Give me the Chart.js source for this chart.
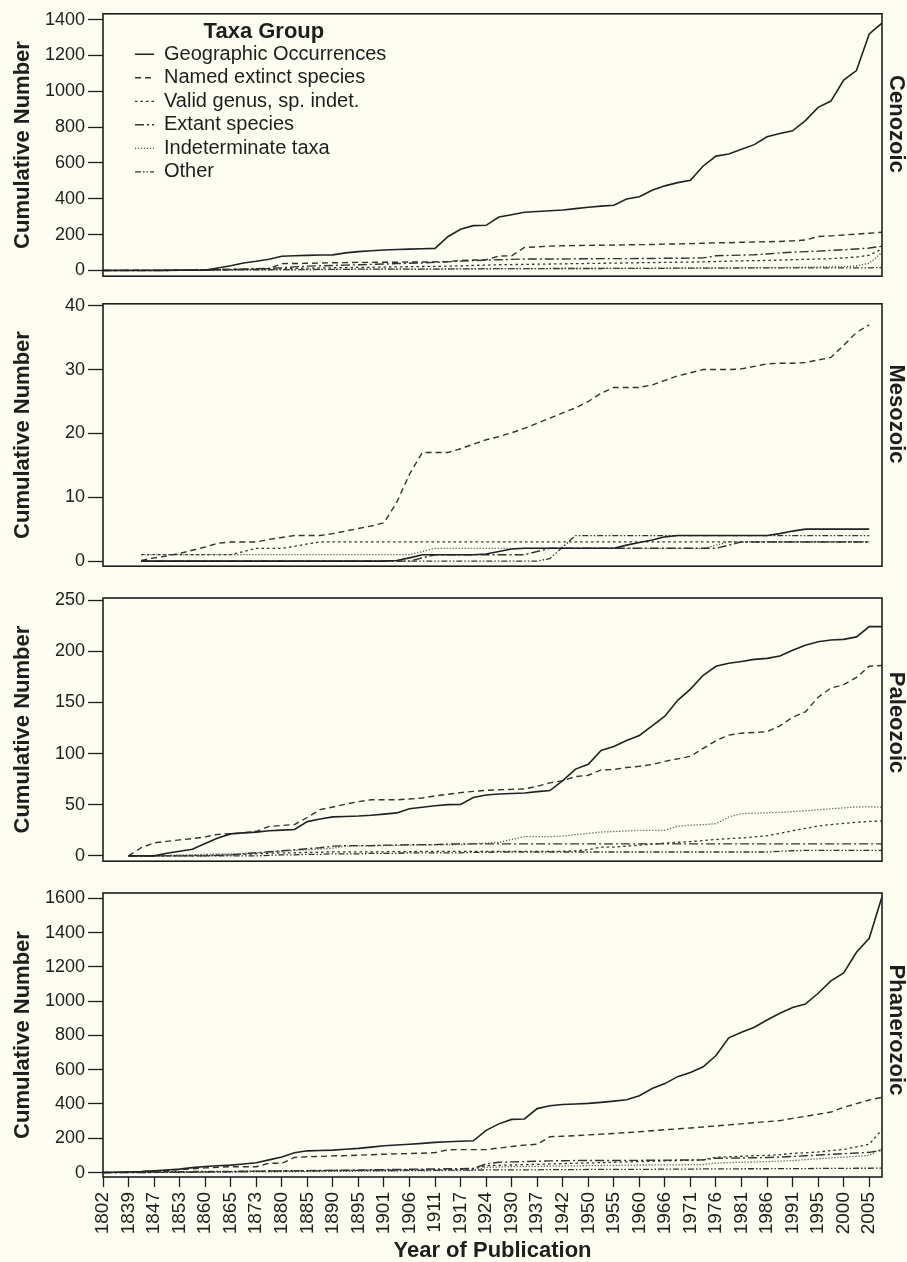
<!DOCTYPE html>
<html>
<head>
<meta charset="utf-8">
<title>Cumulative Number by Year of Publication</title>
<script src="https://cdn.jsdelivr.net/npm/chart.js@4/dist/chart.umd.min.js"></script>
<style>
    html, body { margin: 0; padding: 0; background: #fdfdf1; overflow: hidden; }
    #wrap { position: relative; width: 907px; height: 1262px; }
    #wrap canvas { position: absolute; left: 0; }
</style>
</head>
<body>
<div id="wrap">
    <canvas id="cenozoic" width="907" height="290" style="top:0px"></canvas>
    <canvas id="mesozoic" width="907" height="290" style="top:290px"></canvas>
    <canvas id="paleozoic" width="907" height="295" style="top:580px"></canvas>
    <canvas id="phanerozoic" width="907" height="387" style="top:875px"></canvas>
</div>
<script>
// publication years on the category axis (only tickYears get a label)
const years = [
    1802, 1830, 1839, 1843, 1847, 1850, 1853, 1857, 1860, 1862,
    1865, 1869, 1873, 1877, 1880, 1883, 1885, 1888, 1890, 1893,
    1895, 1898, 1901, 1904, 1906, 1909, 1911, 1914, 1917, 1921,
    1924, 1927, 1930, 1934, 1937, 1940, 1942, 1946, 1950, 1953,
    1955, 1958, 1960, 1963, 1966, 1969, 1971, 1974, 1976, 1979,
    1981, 1984, 1986, 1989, 1991, 1993, 1995, 1998, 2000, 2003,
    2005, 2007,
];
const tickYears = [
    1802, 1839, 1847, 1853, 1860, 1865, 1873, 1880, 1885, 1890, 1895,
    1901, 1906, 1911, 1917, 1924, 1930, 1937, 1942, 1950, 1955, 1960,
    1966, 1971, 1976, 1981, 1986, 1991, 1995, 2000, 2005,
];
const taxaGroups = [
    'Geographic Occurrences',
    'Named extinct species',
    'Valid genus, sp. indet.',
    'Extant species',
    'Indeterminate taxa',
    'Other',
];

// --- Cenozoic
const cenGeo = [
    0, 0, 0, 0, 0, 0.5, 1, 1, 2, 14,
    26, 42, 51, 63, 79, 82, 84, 86, 87, 98,
    105, 110, 114, 117, 119, 121, 123, 188, 230, 250,
    252, 298, 311, 325, 329, 333, 337, 345, 353, 359,
    364, 399, 411, 447, 472, 490, 503, 583, 638, 650,
    676, 702, 746, 764, 779, 836, 910, 945, 1062, 1115,
    1320, 1380,
];
const cenNamed = [
    0, 0, 1, 1, 2, 2, 3, 3, 4, 5,
    5, 6, 7, 10, 38, 39, 40, 41, 43, 44,
    45, 45, 46, 46, 47, 47, 48, 50, 56, 58,
    60, 80, 82, 128, 132, 136, 138, 139, 140, 141,
    142, 143, 144, 145, 147, 148, 150, 152, 154, 155,
    157, 159, 160, 162, 165, 170, 189, 193, 198, 203,
    208, 213,
];
const cenValid = [
    0, 0, 0, 0, 1, 1, 2, 2, 3, 4,
    5, 6, 7, 8, 10, 12, 13, 14, 15, 16,
    17, 18, 19, 20, 21, 22, 23, 24, 26, 28,
    30, 32, 33, 34, 35, 36, 37, 38, 39, 40,
    41, 42, 43, 44, 45, 46, 47, 48, 50, 52,
    54, 55, 56, 58, 60, 62, 64, 66, 70, 75,
    85, 120,
];
const cenExtant = [
    0, 0, 0, 0, 0, 0, 2, 3, 4, 5,
    6, 8, 10, 12, 15, 20, 24, 26, 28, 30,
    32, 34, 36, 38, 40, 42, 45, 48, 52, 55,
    58, 60, 62, 64, 64, 64, 64, 65, 65, 66,
    66, 66, 67, 67, 68, 68, 69, 70, 82, 84,
    86, 88, 92, 98, 102, 105, 108, 112, 116, 120,
    125, 135,
];
const cenIndet = [
    0, 0, 0, 0, 0, 0, 0, 1, 1, 1,
    2, 2, 3, 3, 4, 4, 5, 5, 5, 6,
    6, 6, 7, 7, 7, 8, 8, 8, 9, 9,
    9, 10, 10, 10, 10, 10, 11, 11, 11, 11,
    12, 12, 12, 12, 13, 13, 13, 14, 14, 14,
    15, 15, 16, 16, 17, 18, 19, 20, 22, 25,
    40, 100,
];
const cenOther = [
    0, 0, 0, 0, 0, 1, 1, 1, 2, 2,
    3, 3, 4, 4, 5, 5, 5, 6, 6, 6,
    7, 7, 7, 8, 8, 8, 8, 9, 9, 9,
    10, 10, 10, 10, 10, 11, 11, 11, 11, 11,
    12, 12, 12, 12, 12, 13, 13, 13, 13, 13,
    14, 14, 14, 14, 14, 14, 15, 15, 15, 15,
    15, 16,
];

// --- Mesozoic
const mesGeo = [
    null, null, null, 0, 0, 0, 0, 0, 0, 0,
    0, 0, 0, 0, 0, 0, 0, 0, 0, 0,
    0, 0, 0, 0.1, 0.5, 1, 1, 1, 1, 1,
    1.1, 1.5, 1.9, 2, 2, 2, 2, 2, 2, 2,
    2, 2.5, 2.9, 3.3, 3.8, 4, 4, 4, 4, 4,
    4, 4, 4, 4.3, 4.7, 5, 5, 5, 5, 5,
    5, null,
];
const mesNamed = [
    null, null, null, 0.1, 0.5, 0.8, 1.2, 1.7, 2.2, 2.8,
    3, 3, 3, 3.4, 3.7, 4, 4, 4, 4.3, 4.7,
    5.1, 5.5, 6, 9.2, 13.6, 17, 17, 17, 17.6, 18.3,
    19, 19.5, 20.1, 20.8, 21.6, 22.4, 23.2, 24, 25, 26.3,
    27.2, 27.2, 27.2, 27.6, 28.3, 29, 29.5, 30, 30, 30,
    30.1, 30.5, 30.9, 31, 31, 31.1, 31.5, 31.9, 33.8, 35.8,
    37, null,
];
const mesValid = [
    null, null, null, 1, 1, 1, 1, 1, 1, 1,
    1, 1.5, 2, 2, 2, 2.3, 2.7, 3, 3, 3,
    3, 3, 3, 3, 3, 3, 3, 3, 3, 3,
    3, 3, 3, 3, 3, 3, 3, 3, 3, 3,
    3, 3, 3, 3, 3, 3, 3, 3, 3, 3,
    3, 3, 3, 3, 3, 3, 3, 3, 3, 3,
    3, null,
];
const mesExtant = [
    null, null, null, 0, 0, 0, 0, 0, 0, 0,
    0, 0, 0, 0, 0, 0, 0, 0, 0, 0,
    0, 0, 0, 0, 0, 0.5, 1, 1, 1, 1,
    1, 1, 1, 1, 1.5, 2, 2, 2, 2, 2,
    2, 2, 2, 2, 2, 2, 2, 2, 2, 2.5,
    3, 3, 3, 3, 3, 3, 3, 3, 3, 3,
    3, null,
];
const mesIndet = [
    null, null, null, 1, 1, 1, 1, 1, 1, 1,
    1, 1, 1, 1, 1, 1, 1, 1, 1, 1,
    1, 1, 1, 1, 1, 1.5, 2, 2, 2, 2,
    2, 2, 2, 2, 2, 2, 2, 2, 2, 2,
    2, 2, 2, 2, 2, 2, 2, 2, 2.5, 3,
    3, 3, 3, 3, 3, 3, 3, 3, 3, 3,
    3, null,
];
const mesOther = [
    null, null, null, 0, 0, 0, 0, 0, 0, 0,
    0, 0, 0, 0, 0, 0, 0, 0, 0, 0,
    0, 0, 0, 0, 0, 0, 0, 0, 0, 0,
    0, 0, 0, 0, 0, 0.4, 2.2, 4, 4, 4,
    4, 4, 4, 4, 4, 4, 4, 4, 4, 4,
    4, 4, 4, 4, 4, 4, 4, 4, 4, 4,
    4, null,
];

// --- Paleozoic
const palGeo = [
    null, null, 0, 0, 0, 2.5, 4.5, 6.5, 12, 17.5,
    21.5, 22.5, 23.2, 24.6, 25.2, 25.8, 33.5, 36, 38.1, 38.5,
    38.9, 39.7, 40.8, 42, 46, 47.5, 49, 50.1, 50.2, 57,
    59.5, 60.5, 61, 61.5, 62.8, 63.8, 73.5, 84.8, 89.5, 103,
    106.9, 112.7, 117.7, 127, 136.5, 152, 163, 176.5, 185.3, 188.2,
    190, 192, 193, 195.3, 201, 205.8, 209.2, 211, 211.6, 214,
    224, 224,
];
const palNamed = [
    null, null, 0, 8, 12.7, 14.2, 15.6, 16.8, 18.6, 21,
    21.8, 22.4, 24, 28.8, 29.7, 30.6, 37.5, 45.2, 47.8, 50.5,
    53, 54.8, 54.8, 54.8, 55.6, 56.6, 58.6, 60.2, 61.8, 63,
    64.1, 64.6, 65, 65.4, 68, 71.4, 73.5, 77.5, 78.8, 84,
    84.4, 86.3, 87.6, 89.3, 92.4, 94.8, 97.3, 105, 112.6, 118,
    119.9, 120.6, 121.4, 127, 135.5, 140.7, 155, 164, 167.3, 174.4,
    185.3, 186,
];
const palValid = [
    null, null, 0, 0, 0, 0, 0, 0.5, 0.5, 1,
    1, 1.5, 2, 2.5, 3, 3, 3.5, 3.5, 4, 4,
    4, 4, 4, 4.2, 4.2, 4.4, 4.4, 4.4, 4.4, 4.4,
    4.4, 4.4, 4.4, 4.4, 4.4, 4.4, 4.4, 5, 6, 8.6,
    8.6, 9.5, 10.5, 11.5, 12.5, 13.3, 14, 15, 16, 16.8,
    17.5, 18.5, 19.7, 22, 24.6, 26.8, 29.2, 30.6, 31.8, 32.8,
    33.7, 34,
];
const palExtant = [
    null, null, 0, 0, 0, 0, 0, 0, 0, 0.5,
    1, 2, 3, 4, 5, 6, 7, 8, 9.5, 10,
    10, 10, 10.5, 10.5, 11, 11, 11, 11.5, 11.7, 11.7,
    11.7, 11.7, 11.7, 11.7, 11.7, 11.7, 11.7, 11.7, 11.7, 11.7,
    11.7, 11.7, 11.7, 11.7, 11.7, 11.7, 11.7, 11.7, 11.7, 11.7,
    11.7, 11.7, 11.7, 11.7, 11.7, 11.7, 11.7, 11.7, 11.7, 11.7,
    11.7, 11.7,
];
const palIndet = [
    null, null, 0, 0, 0, 0.5, 1, 1, 1.5, 2,
    2, 2.5, 3, 3.6, 4.6, 5.4, 5.9, 6.7, 7.6, 9.5,
    9.7, 9.8, 10, 10.2, 10.3, 10.5, 10.7, 10.8, 11, 11.8,
    12.5, 13.3, 16, 18.8, 18.8, 18.8, 19.5, 20.7, 22, 23.3,
    23.8, 24.3, 25, 25, 25, 29, 30, 30.5, 31.5, 38,
    41.3, 41.7, 42.1, 42.5, 43.3, 44, 45.1, 46, 46.9, 47.7,
    48, 47.5,
];
const palOther = [
    null, null, 0, 0, 0, 0, 0, 0, 0, 0,
    0, 0, 0, 0.5, 1, 1, 1.5, 1.5, 2, 2,
    2, 2.5, 2.5, 2.5, 3, 3, 3, 3, 3, 3.5,
    3.5, 3.8, 3.8, 3.8, 3.8, 3.8, 3.8, 3.8, 3.8, 3.8,
    3.8, 3.8, 3.8, 3.8, 3.8, 3.8, 3.8, 3.8, 3.8, 3.8,
    3.8, 3.8, 3.8, 4.5, 5, 5.4, 5.4, 5.4, 5.4, 5.4,
    5.4, 5.4,
];

// --- Phanerozoic
const phaGeo = [
    0, 2, 3.5, 5.2, 10, 15, 20, 28.5, 35.5, 39.5,
    43.4, 50, 57.5, 74, 90.5, 115.5, 126.7, 128.8, 131, 136,
    141, 148.4, 156.3, 160.6, 164.8, 170, 176, 179.5, 182.6, 185.5,
    246, 284, 310, 312.5, 373, 389.5, 396.7, 400, 403.5, 409.5,
    416.6, 424.7, 448.7, 490, 519, 559.5, 583.6, 617, 683, 786,
    818, 848, 890, 929, 963, 983, 1046, 1118, 1165, 1285,
    1367, 1609,
];
const phaNamed = [
    0, 1, 3, 6, 9, 13, 17, 22, 27, 31,
    34, 34, 34, 54, 54, 88, 92, 94, 97, 99,
    101, 104, 107, 109, 111, 113, 116, 133, 134, 134,
    134, 143, 152, 160, 165, 209, 212, 215, 220, 224,
    228, 233, 238, 244, 250, 255, 260, 266, 272, 278,
    284, 291, 297, 303, 316, 328, 340, 353, 380, 402,
    423, 439,
];
const phaValid = [
    0, 0, 1, 1, 2, 2, 3, 3, 4, 4,
    5, 6, 7, 8, 9, 10, 10, 11, 12, 12,
    13, 14, 14, 15, 16, 16, 17, 18, 18, 20,
    40, 42, 44, 46, 48, 50, 52, 54, 56, 58,
    60, 62, 64, 66, 68, 70, 72, 74, 90, 92,
    95, 98, 100, 104, 112, 115, 120, 128, 135, 150,
    165, 250,
];
const phaExtant = [
    0, 0, 0, 0, 1, 1, 2, 2, 3, 4,
    5, 6, 7, 8, 9, 10, 11, 12, 13, 14,
    15, 16, 17, 18, 19, 20, 21, 22, 23, 24,
    50, 60, 62, 64, 66, 68, 69, 70, 70, 70,
    70, 71, 71, 72, 72, 73, 73, 74, 83, 84,
    85, 86, 88, 90, 94, 98, 102, 106, 110, 114,
    118, 130,
];
const phaIndet = [
    0, 0, 0, 0, 0, 1, 1, 1, 2, 2,
    3, 3, 4, 4, 5, 5, 6, 6, 7, 7,
    8, 8, 9, 9, 10, 10, 11, 11, 12, 13,
    30, 32, 34, 35, 36, 37, 38, 39, 40, 41,
    42, 43, 44, 44, 45, 45, 46, 47, 55, 58,
    60, 62, 64, 66, 70, 75, 80, 85, 90, 95,
    100, 140,
];
const phaOther = [
    0, 1, 2, 3, 4, 5, 5, 6, 6, 7,
    7, 8, 8, 9, 9, 10, 10, 10, 11, 11,
    11, 12, 12, 12, 13, 13, 13, 14, 14, 14,
    15, 15, 16, 16, 16, 17, 17, 17, 18, 18,
    18, 19, 19, 19, 20, 20, 20, 21, 21, 21,
    22, 22, 22, 23, 23, 23, 24, 24, 24, 25,
    25, 26,
];

const ink = '#1e1e1e';
const fontFamily = '"Liberation Sans", Arial, sans-serif';
const lineStyles = [
    { color: '#222222', width: 1.6, dash: [] },
    { color: '#333333', width: 1.4, dash: [6, 4] },
    { color: '#333333', width: 1.3, dash: [2.5, 3] },
    { color: '#333333', width: 1.4, dash: [9, 3, 2, 3] },
    { color: '#555555', width: 1.3, dash: [1.2, 1.8] },
    { color: '#333333', width: 1.3, dash: [6, 2, 1.5, 2, 1.5, 2] },
];

Chart.defaults.font.family = fontFamily;
Chart.defaults.color = ink;

// box round the plot area
const framePlugin = {
    id: 'frame',
    afterDatasetsDraw(chart) {
        const { ctx, chartArea: a } = chart;
        ctx.save();
        ctx.strokeStyle = ink;
        ctx.lineWidth = 1.6;
        ctx.strokeRect(a.left, a.top, a.right - a.left, a.bottom - a.top);
        ctx.restore();
    },
};

// era name written down the right-hand side of each panel
const eraLabel = {
    id: 'eraLabel',
    afterDraw(chart, args, opts) {
        if (!opts.text) return;
        const { ctx, chartArea: a } = chart;
        ctx.save();
        ctx.translate(a.right + 14, (a.top + a.bottom) / 2 + (opts.dy || 0));
        ctx.rotate(Math.PI / 2);
        ctx.font = `bold 22px ${fontFamily}`;
        ctx.fillStyle = ink;
        ctx.textAlign = 'center';
        ctx.textBaseline = 'middle';
        ctx.fillText(opts.text, 0, 0);
        ctx.restore();
    },
};

// nudge the in-plot legend away from the left edge
const legendShift = {
    id: 'legendShift',
    afterLayout(chart, args, opts) {
        const lg = chart.legend;
        if (!lg || !opts.dx) return;
        lg.left += opts.dx;
        lg.right += opts.dx;
    },
};

const makePanel = (id, name, series, yMin, yMax, step, padding, opts = {}) => {
    const datasets = series.map((values, k) => ({
        label: taxaGroups[k],
        data: values,
        borderColor: lineStyles[k].color,
        borderWidth: lineStyles[k].width,
        borderDash: lineStyles[k].dash,
        pointRadius: 0,
        pointStyle: 'line',
        tension: 0,
        fill: false,
    }));

    return new Chart(document.getElementById(id), {
        type: 'line',
        data: { labels: years, datasets },
        plugins: opts.legend ? [framePlugin, eraLabel, legendShift] : [framePlugin, eraLabel],
        options: {
            responsive: false,
            animation: false,
            layout: { padding: { left: 0, right: 25, top: padding[0], bottom: padding[1] } },
            plugins: {
                tooltip: { enabled: false },
                eraLabel: { text: name, dy: opts.labelDy },
                legendShift: { dx: 28.5 },
                legend: opts.legend ? {
                    display: true,
                    position: 'chartArea',
                    align: 'start',
                    title: {
                        display: true,
                        text: 'Taxa Group',
                        color: ink,
                        font: { size: 22, weight: 'bold', lineHeight: 0.9 },
                        padding: { top: 21, bottom: 0 },
                    },
                    labels: {
                        usePointStyle: true,
                        pointStyle: 'line',
                        pointStyleWidth: 19,
                        padding: 3.5,
                        color: ink,
                        font: { size: 20 },
                        // keep each series' dash pattern in its legend sample
                        generateLabels: (chart) => Chart.defaults.plugins.legend.labels.generateLabels(chart).map((item) => {
                            const ds = chart.data.datasets[item.datasetIndex];
                            return { ...item, lineDash: ds.borderDash, lineWidth: ds.borderWidth, strokeStyle: ds.borderColor };
                        }),
                    },
                } : { display: false },
            },
            scales: {
                x: {
                    type: 'category',
                    display: !!opts.xAxis,
                    offset: false,
                    afterBuildTicks: (scale) => {
                        scale.ticks = scale.ticks.filter((t) => tickYears.includes(years[t.value]));
                    },
                    afterFit: (scale) => { if (opts.xAxis) scale.height = 85; },
                    grid: { drawOnChartArea: false, tickLength: 10, tickColor: ink, tickWidth: 1.3 },
                    border: { display: false },
                    ticks: { autoSkip: false, minRotation: 90, maxRotation: 90, padding: 5, color: ink, font: { size: 19 } },
                    title: {
                        display: true,
                        text: 'Year of Publication',
                        color: ink,
                        font: { size: 22, weight: 'bold', lineHeight: 1 },
                        padding: { top: 0, bottom: 0 },
                    },
                },
                y: {
                    type: 'linear',
                    min: yMin,
                    max: yMax,
                    afterFit: (scale) => { scale.width = 103; },
                    grid: { drawOnChartArea: false, tickLength: 15, tickColor: ink, tickWidth: 1.3 },
                    border: { display: false },
                    ticks: { stepSize: step, includeBounds: false, padding: 3, color: ink, font: { size: 18 }, callback: (v) => v },
                    title: {
                        display: true,
                        text: 'Cumulative Number',
                        color: ink,
                        font: { size: 22, weight: 'bold', lineHeight: 1 },
                        padding: { top: 11.5, bottom: 0 },
                    },
                },
            },
        },
    });
};

document.addEventListener('DOMContentLoaded', () => {
    makePanel('cenozoic', 'Cenozoic',
        [cenGeo, cenNamed, cenValid, cenExtant, cenIndet, cenOther],
        -32, 1432, 200, [10, 7], { legend: true, labelDy: -21 });
    makePanel('mesozoic', 'Mesozoic',
        [mesGeo, mesNamed, mesValid, mesExtant, mesIndet, mesOther],
        -0.8, 40.3, 10, [13, 8], { labelDy: -21 });
    makePanel('paleozoic', 'Paleozoic',
        [palGeo, palNamed, palValid, palExtant, palIndet, palOther],
        -5.2, 252, 50, [18, 7], { labelDy: -7 });
    makePanel('phanerozoic', 'Phanerozoic',
        [phaGeo, phaNamed, phaValid, phaExtant, phaIndet, phaOther],
        -26, 1631, 200, [18, 0], { xAxis: true, labelDy: -5 });
});
</script>
</body>
</html>
